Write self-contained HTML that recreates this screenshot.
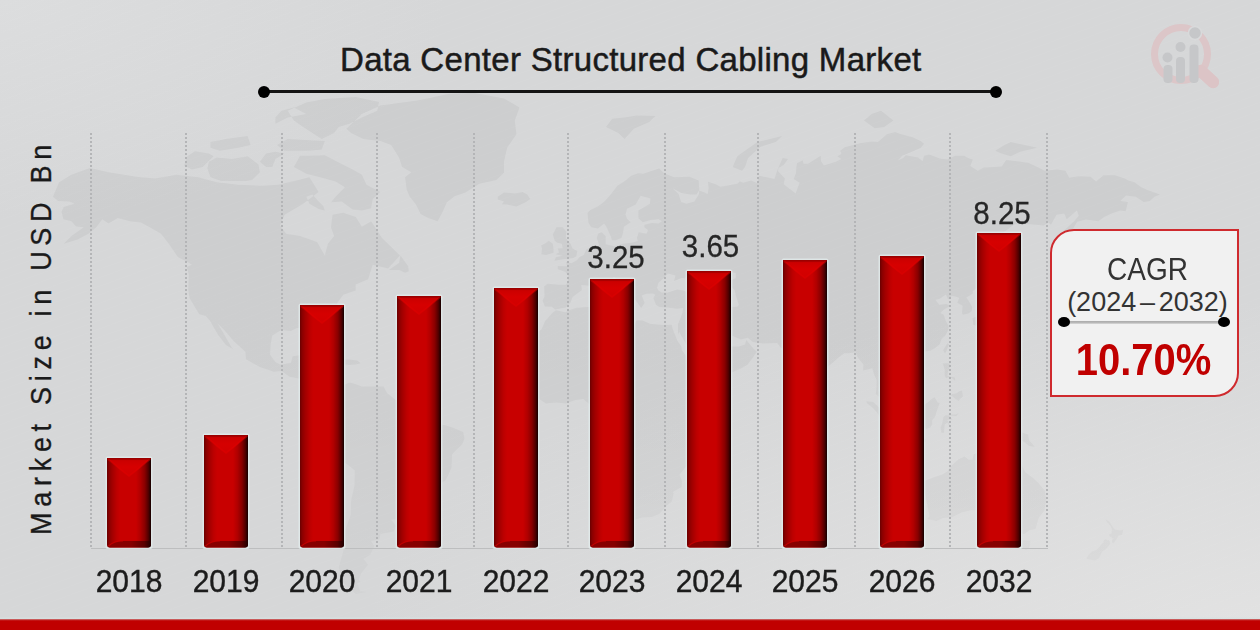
<!DOCTYPE html>
<html>
<head>
<meta charset="utf-8">
<style>
*{margin:0;padding:0;box-sizing:border-box;}
html,body{width:1260px;height:630px;overflow:hidden;}
body{position:relative;font-family:"Liberation Sans",sans-serif;background:#d6d7d8;}
#bg{position:absolute;left:0;top:0;width:1260px;height:630px;
 background:
  repeating-linear-gradient(160deg, rgba(255,255,255,0) 0px, rgba(255,255,255,0) 6px, rgba(255,255,255,0.028) 7px, rgba(255,255,255,0) 8px),
  radial-gradient(ellipse 900px 330px at 100% 100%, rgba(226,226,226,1) 0%, rgba(226,226,226,0) 100%),
  radial-gradient(ellipse 450px 220px at 0% 0%, rgba(220,221,222,1) 0%, rgba(220,221,222,0) 100%),
  #d6d7d8;}
.title{position:absolute;left:340px;top:41px;font-size:33px;letter-spacing:0.3px;color:#1a1a1a;white-space:nowrap;-webkit-text-stroke:0.5px #1a1a1a;}
.tline{position:absolute;left:264px;top:89.5px;width:732px;height:3px;background:#141414;}
.dot{position:absolute;width:12px;height:12px;border-radius:50%;background:#000;}
.grid{position:absolute;top:133px;height:415px;width:2px;margin-left:-1px;background:repeating-linear-gradient(to bottom,#b4b5b7 0px,#b4b5b7 2px,rgba(0,0,0,0) 2px,rgba(0,0,0,0) 4px);}
.axis{position:absolute;left:91px;top:548px;width:957px;height:0;border-top:1px solid #bdbebf;}
.yr{position:absolute;top:565px;font-size:30px;color:#1c1c1c;width:100px;text-align:center;-webkit-text-stroke:0.4px #1c1c1c;transform:scaleY(1.07);transform-origin:50% 79%;}
.val{position:absolute;font-size:29.5px;color:#262626;width:100px;text-align:center;-webkit-text-stroke:0.3px #262626;transform:scaleY(1.07);transform-origin:50% 79%;}
.ylab{position:absolute;left:40.5px;top:337px;font-size:27px;color:#1a1a1a;letter-spacing:5.7px;white-space:nowrap;-webkit-text-stroke:0.3px #1a1a1a;
 transform:translate(-50%,-50%) rotate(-90deg) scaleY(1.12);}
.cagr{position:absolute;left:1050px;top:229px;width:189px;height:168px;background:#f1f1f1;
 border:2px solid #cf2a2e;border-radius:24px 0 24px 0;}
.c1{position:absolute;left:3px;width:185px;text-align:center;font-size:26px;color:#333;}
.sep{position:absolute;left:12px;top:89.5px;width:160px;height:3.5px;background:linear-gradient(to bottom,#acacac 0%,#b4b4b4 45%,#dadada 100%);}
.sdot{position:absolute;width:11.5px;height:10px;border-radius:50%;background:#000;}
.pct{position:absolute;left:-1px;width:185px;text-align:center;font-size:40px;font-weight:bold;color:#c00000;transform:scaleY(1.11);}
.redbar{position:absolute;left:0;top:619px;width:1260px;height:11px;background:linear-gradient(to bottom,rgba(192,0,0,0.45) 0px,rgba(192,0,0,0.9) 1.5px,#c00000 2.5px);}
.redline{position:absolute;left:0;top:617px;width:1260px;height:3px;background:linear-gradient(to bottom,rgba(214,226,226,0.3),#d6e2e2);}
svg{position:absolute;left:0;top:0;}
</style>
</head>
<body>
<div id="bg"></div>
<svg width="1260" height="630" viewBox="0 0 1260 630"><defs><linearGradient id="mg" gradientUnits="userSpaceOnUse" x1="0" y1="100" x2="0" y2="600"><stop offset="0" stop-color="#000" stop-opacity="0.044"/><stop offset="0.5" stop-color="#000" stop-opacity="0.041"/><stop offset="0.75" stop-color="#000" stop-opacity="0.033"/><stop offset="1" stop-color="#000" stop-opacity="0.02"/></linearGradient></defs><path d="M657.0,287.9 L658.5,282.7 L663.8,278.1 L667.8,273.5 L675.5,275.6 L674.0,281.0 L681.7,278.1 L684.8,278.5 L689.4,272.1 L693.4,272.1 L689.4,277.4 L687.9,280.3 L694.1,284.4 L700.2,290.6 L700.2,292.4 L691.0,293.4 L683.2,290.6 L677.1,289.6 L667.8,292.4 L661.6,292.4 L658.5,290.6Z M717.2,284.4 L718.8,277.4 L723.4,273.9 L729.6,272.1 L735.8,273.1 L735.8,278.1 L729.6,281.0 L730.5,286.2 L734.8,290.3 L735.8,295.7 L738.9,304.7 L737.3,306.7 L731.1,307.0 L726.5,305.1 L723.4,301.4 L725.0,294.7 L721.9,290.3Z M52.9,196.8 L59.1,182.3 L71.4,174.8 L90.0,168.1 L108.5,172.2 L136.3,176.8 L154.9,178.4 L176.5,174.8 L198.1,177.3 L216.7,182.3 L238.3,184.8 L263.0,185.8 L278.4,184.8 L293.9,180.9 L309.4,177.3 L318.6,192.1 L303.2,203.7 L284.6,214.8 L280.0,225.5 L286.2,233.8 L300.1,235.9 L317.1,241.9 L324.8,255.4 L327.9,243.8 L334.1,235.9 L331.0,227.6 L332.5,214.8 L343.3,212.7 L355.7,217.0 L361.9,226.8 L371.1,221.3 L382.0,237.9 L395.9,251.6 L399.9,255.4 L388.1,268.4 L372.7,264.8 L368.1,279.2 L355.7,284.4 L355.7,290.6 L343.3,294.7 L337.2,303.1 L337.2,312.9 L331.0,316.8 L321.7,324.1 L324.8,338.1 L323.9,343.6 L320.2,342.6 L316.1,335.0 L312.4,328.8 L306.3,327.5 L297.0,328.1 L290.8,331.0 L281.5,330.0 L272.3,335.6 L270.7,344.2 L270.1,354.7 L275.4,362.1 L280.0,364.5 L290.8,363.0 L292.7,356.2 L303.2,354.7 L300.7,363.6 L299.2,371.0 L310.9,371.3 L314.6,373.9 L314.0,385.5 L320.2,391.2 L326.3,389.8 L332.8,392.4 L331.0,396.1 L323.3,395.8 L319.5,393.3 L307.2,388.4 L306.9,384.9 L301.3,379.1 L289.6,376.8 L281.5,371.0 L273.8,371.8 L259.9,367.1 L246.0,359.2 L245.4,351.7 L233.6,341.1 L224.4,330.3 L217.6,323.4 L222.8,331.9 L231.5,347.2 L233.6,349.6 L225.9,345.1 L218.2,335.0 L214.5,328.8 L210.2,320.9 L205.8,316.1 L199.3,314.2 L195.3,307.7 L189.5,298.1 L188.2,289.6 L188.8,274.6 L186.7,267.0 L191.9,264.8 L185.8,261.1 L178.0,257.3 L168.8,243.8 L161.0,233.8 L150.2,227.6 L140.9,222.6 L130.1,221.3 L117.8,217.9 L108.5,223.4 L102.3,219.2 L96.1,227.6 L88.4,233.8 L77.6,239.5 L63.7,243.8 L71.4,235.9 L83.8,227.2 L76.1,226.4 L71.4,221.3 L63.4,219.2 L61.5,211.8 L63.7,206.9 L74.5,203.7 L69.3,201.4 L58.1,201.0Z M346.4,128.8 L361.9,114.1 L380.4,105.4 L417.5,100.5 L448.4,94.1 L473.1,92.7 L504.0,98.4 L519.5,107.4 L514.8,120.6 L516.4,134.3 L507.1,147.8 L504.0,161.7 L504.0,172.8 L496.3,179.9 L479.3,183.8 L465.4,192.5 L454.6,196.3 L446.9,202.3 L442.2,212.7 L437.6,221.3 L428.3,217.9 L420.6,214.0 L416.0,204.6 L409.8,196.8 L406.7,189.7 L405.1,177.3 L411.3,172.2 L402.1,167.0 L399.0,157.4 L391.2,145.0 L380.4,140.9 L363.4,139.1 L351.1,133.1Z M497.8,196.8 L504.0,192.5 L514.8,193.5 L522.6,192.1 L527.2,194.4 L530.3,199.1 L525.6,202.3 L516.4,206.4 L507.1,204.6 L501.9,204.2 L504.0,201.4 L497.8,199.6Z M332.8,392.4 L338.7,386.9 L349.5,382.6 L355.1,384.0 L361.9,386.6 L374.2,386.6 L383.5,386.6 L387.2,393.3 L395.9,399.9 L405.1,400.4 L412.9,404.7 L417.5,411.9 L416.0,418.4 L423.7,419.3 L434.5,423.3 L445.3,425.3 L453.0,427.8 L463.2,432.1 L464.5,438.4 L462.3,444.2 L456.7,449.4 L452.1,454.3 L451.5,467.4 L448.4,474.8 L445.3,480.8 L439.1,483.8 L433.0,485.9 L423.7,491.4 L421.5,500.6 L416.0,508.4 L408.2,517.2 L403.6,520.5 L395.9,519.5 L391.2,519.5 L395.9,526.0 L393.7,531.6 L380.4,533.9 L379.5,539.3 L371.1,541.0 L374.2,546.1 L370.2,554.8 L363.4,559.1 L368.1,564.5 L361.0,573.7 L358.8,579.7 L360.6,582.0 L357.2,583.1 L360.3,591.3 L366.5,592.1 L355.7,594.1 L343.3,582.4 L338.7,567.4 L343.3,551.3 L344.3,541.0 L344.9,530.9 L350.8,514.7 L351.1,500.6 L354.5,485.3 L354.8,470.4 L349.5,466.0 L336.2,456.6 L330.4,445.6 L326.0,438.4 L321.1,432.7 L321.7,428.4 L324.8,424.1 L322.0,419.9 L324.8,415.3 L327.9,412.1 L332.8,406.2 L333.1,398.4 L331.3,396.1Z M544.2,286.2 L544.5,296.4 L542.6,300.4 L544.8,306.4 L551.9,306.7 L555.0,309.6 L565.8,307.4 L570.5,302.4 L572.6,297.1 L581.9,290.0 L581.3,285.1 L590.5,285.8 L595.2,283.4 L599.8,281.3 L604.4,286.2 L609.1,290.3 L615.3,293.0 L620.8,296.4 L620.2,303.1 L623.3,301.4 L624.5,299.1 L629.2,296.1 L624.5,293.7 L614.3,284.1 L610.6,281.7 L613.7,277.1 L618.4,280.3 L624.5,285.5 L631.9,290.3 L631.6,294.7 L636.9,302.1 L641.2,308.0 L644.6,303.1 L641.8,295.4 L646.2,293.7 L653.0,293.4 L655.4,294.7 L653.3,298.1 L656.0,304.7 L659.4,307.0 L667.8,307.4 L677.1,308.7 L683.2,308.0 L682.3,313.2 L680.1,319.3 L678.0,324.1 L678.0,335.0 L679.2,331.6 L680.8,335.0 L686.3,344.2 L692.5,354.7 L698.7,366.6 L704.3,375.0 L706.1,380.6 L711.0,380.3 L721.9,376.8 L732.7,372.1 L742.0,368.0 L747.2,365.1 L752.8,357.7 L756.8,351.7 L753.4,348.4 L746.3,339.9 L745.0,344.5 L738.9,346.6 L731.4,346.6 L729.6,341.1 L726.5,339.6 L721.9,333.7 L719.4,328.8 L723.1,327.5 L727.1,328.1 L730.8,335.3 L741.0,339.6 L747.8,337.8 L752.8,342.0 L762.3,343.6 L777.2,342.9 L780.6,347.5 L784.6,349.6 L789.2,356.2 L796.6,355.0 L797.0,362.1 L799.1,371.0 L802.5,379.7 L806.8,388.9 L811.5,394.1 L813.6,391.5 L817.0,387.5 L819.2,379.7 L820.1,371.3 L826.3,368.0 L834.3,361.2 L840.2,356.2 L844.2,353.2 L849.2,353.2 L855.7,352.3 L857.5,357.1 L863.4,364.5 L863.1,370.4 L872.3,368.3 L873.9,373.9 L876.7,380.3 L876.4,389.8 L875.7,394.1 L881.3,398.4 L882.5,402.7 L885.0,409.0 L891.8,413.3 L894.0,412.4 L891.5,403.3 L890.6,400.4 L885.9,397.9 L881.9,395.6 L878.5,390.7 L879.5,384.9 L880.7,381.1 L883.8,378.5 L888.7,382.0 L894.0,386.9 L896.8,392.4 L901.7,389.8 L909.4,383.8 L909.7,378.2 L907.9,372.4 L903.6,368.0 L899.2,363.6 L901.4,358.3 L905.7,354.7 L911.6,354.7 L917.5,354.4 L923.0,352.0 L930.1,350.8 L934.5,348.4 L939.7,344.2 L941.6,339.0 L945.6,335.3 L948.1,330.3 L948.7,326.0 L945.9,321.2 L943.7,314.8 L940.3,312.9 L944.7,309.0 L950.5,305.7 L946.2,304.1 L939.4,304.7 L936.6,301.4 L935.7,299.8 L939.7,298.8 L945.9,294.4 L948.1,299.4 L951.8,295.7 L956.1,296.7 L959.2,298.1 L957.3,302.8 L962.6,305.7 L962.0,312.9 L962.9,314.8 L968.4,313.5 L971.8,310.9 L972.2,307.0 L968.8,301.1 L966.3,297.4 L969.4,295.7 L972.8,293.4 L972.8,291.0 L976.2,288.6 L980.8,285.1 L990.7,283.1 L995.9,277.8 L999.0,273.9 L1004.9,267.0 L1006.5,256.6 L1008.9,252.8 L1006.5,247.0 L999.0,245.8 L994.7,243.5 L997.5,237.1 L1006.1,230.5 L1014.5,224.3 L1021.6,224.3 L1030.9,224.3 L1043.5,225.5 L1048.5,222.6 L1051.0,224.7 L1056.5,214.8 L1064.2,213.5 L1066.7,219.2 L1076.9,210.4 L1078.8,215.7 L1074.1,221.3 L1064.9,229.7 L1057.1,237.9 L1055.3,254.7 L1060.8,250.1 L1066.4,244.6 L1072.9,237.5 L1076.0,230.5 L1072.9,228.9 L1077.2,221.7 L1085.9,219.6 L1098.5,221.3 L1104.1,217.0 L1111.5,213.5 L1120.2,210.4 L1125.7,211.3 L1127.9,201.9 L1124.2,201.4 L1120.2,201.0 L1126.0,195.4 L1135.9,196.8 L1143.7,201.9 L1149.8,201.0 L1154.5,196.8 L1160.0,194.4 L1152.9,192.1 L1146.7,189.7 L1140.6,186.8 L1134.4,182.3 L1128.2,180.4 L1124.8,178.4 L1114.9,175.3 L1103.5,175.3 L1096.1,181.4 L1090.5,176.8 L1078.8,176.3 L1069.2,177.8 L1065.5,170.7 L1057.1,169.6 L1044.5,170.7 L1036.4,166.5 L1028.1,162.8 L1017.0,161.2 L1006.1,160.1 L1001.8,166.5 L994.7,167.0 L983.9,167.6 L977.7,170.7 L970.3,166.0 L972.8,159.5 L969.1,158.4 L964.1,155.7 L955.2,155.7 L947.4,159.5 L939.7,158.4 L929.2,154.6 L924.0,155.7 L922.7,161.2 L918.1,157.4 L905.7,155.2 L903.2,157.9 L897.7,160.6 L902.3,155.7 L911.9,151.8 L920.9,147.8 L924.0,143.8 L920.6,140.9 L912.5,137.3 L899.5,133.7 L895.5,131.9 L886.9,134.3 L877.9,142.1 L871.7,141.5 L860.0,143.2 L844.8,147.3 L840.2,150.7 L841.4,154.0 L837.4,156.3 L841.4,159.0 L835.9,161.7 L823.8,165.4 L821.1,161.2 L820.7,155.7 L808.1,163.8 L803.4,163.8 L802.8,160.1 L804.4,159.5 L797.0,163.3 L796.3,167.6 L796.0,173.3 L793.6,178.9 L799.7,182.8 L798.2,186.3 L795.7,193.5 L783.7,184.3 L784.9,178.4 L778.1,171.2 L778.4,168.1 L783.7,164.9 L788.0,159.0 L782.7,157.9 L777.8,169.1 L774.4,178.9 L766.7,177.3 L758.9,175.8 L757.4,183.3 L751.2,180.4 L743.2,182.8 L737.9,180.4 L740.4,180.9 L737.3,183.8 L720.3,186.8 L715.7,184.3 L708.0,181.8 L708.6,188.2 L707.7,194.0 L704.6,192.5 L699.0,190.6 L696.5,194.4 L690.3,194.4 L681.4,193.0 L676.8,190.6 L672.4,188.2 L678.6,194.0 L681.1,201.9 L686.3,203.7 L694.4,201.4 L699.0,194.0 L699.3,187.2 L695.6,187.2 L699.0,187.2 L698.7,180.4 L689.4,176.8 L674.0,177.3 L667.8,174.8 L664.7,173.8 L659.1,168.6 L653.6,170.2 L643.1,173.8 L638.1,173.3 L631.3,175.8 L623.9,181.8 L617.4,185.8 L610.3,194.9 L604.4,201.4 L598.6,206.0 L590.2,210.0 L587.5,213.1 L588.4,222.6 L591.2,227.2 L598.0,228.5 L604.1,223.4 L606.0,226.0 L607.5,229.3 L610.9,236.7 L611.9,240.3 L615.6,240.3 L621.4,237.9 L623.0,233.0 L623.9,226.8 L630.7,222.2 L627.0,218.7 L625.5,214.4 L627.0,208.7 L635.7,204.6 L640.6,195.8 L650.5,198.6 L649.9,203.7 L638.4,210.4 L638.4,218.3 L642.8,222.2 L650.5,220.0 L658.8,219.2 L661.9,221.3 L658.5,223.4 L652.0,223.0 L644.6,224.7 L644.3,227.2 L648.0,230.1 L646.5,233.8 L638.7,232.2 L636.9,237.9 L637.8,241.1 L633.5,242.3 L629.5,243.1 L622.7,243.8 L615.6,246.6 L609.1,245.0 L605.7,244.2 L605.7,236.3 L601.7,232.2 L598.3,233.4 L596.7,237.9 L598.3,242.3 L599.2,245.8 L593.9,247.0 L590.8,247.8 L586.5,249.3 L583.7,255.1 L579.7,257.0 L576.9,260.3 L571.4,263.3 L566.1,261.8 L567.1,266.3 L557.8,265.9 L557.8,269.2 L565.2,271.7 L568.3,275.6 L567.7,282.0 L566.1,284.8 L558.7,284.8 L547.6,283.8Z M554.4,260.7 L561.5,259.6 L573.5,258.1 L576.3,256.2 L577.3,250.9 L572.6,248.5 L570.5,243.8 L565.8,238.3 L566.4,231.8 L562.7,227.2 L556.5,227.2 L552.8,234.6 L554.7,240.7 L557.2,242.7 L561.8,243.8 L562.7,248.2 L557.8,248.5 L559.0,252.4 L555.6,254.3 L562.7,255.8 L555.9,257.3Z M553.5,252.8 L553.5,248.5 L552.8,243.8 L548.8,240.7 L545.7,243.1 L541.1,245.4 L542.0,248.5 L541.4,254.3 L546.0,255.1 L551.0,253.5Z M519.5,356.2 L521.6,361.8 L521.0,370.7 L518.9,374.8 L520.7,382.0 L525.6,386.1 L531.2,391.5 L536.8,397.6 L546.0,403.6 L556.5,402.4 L565.8,403.6 L575.4,399.9 L583.1,399.0 L590.2,404.7 L598.3,403.3 L601.7,406.7 L601.4,414.1 L599.8,420.4 L606.3,428.1 L609.7,434.1 L612.5,441.6 L614.0,450.2 L609.7,458.4 L608.5,467.1 L615.3,481.1 L618.0,493.5 L622.4,500.9 L627.6,510.6 L628.9,517.9 L632.6,520.5 L641.8,517.6 L651.7,516.9 L659.1,514.1 L667.5,504.9 L671.8,501.5 L673.7,493.5 L672.7,492.0 L681.7,487.1 L682.0,481.1 L679.5,474.8 L686.0,466.6 L698.1,459.2 L697.1,447.9 L693.1,439.0 L692.8,430.1 L700.5,421.9 L705.2,416.1 L716.0,408.7 L723.1,401.6 L728.7,391.0 L729.9,383.5 L722.2,384.3 L715.1,386.1 L709.2,387.2 L705.8,382.9 L703.9,380.9 L699.3,375.3 L690.7,365.1 L687.9,363.3 L686.3,356.2 L681.7,349.9 L681.4,346.6 L677.4,340.8 L672.7,329.1 L671.8,324.7 L663.8,325.0 L657.0,324.4 L649.9,323.7 L642.8,320.6 L636.6,320.3 L634.1,325.0 L631.0,327.8 L624.8,325.6 L619.0,321.5 L607.5,319.0 L603.2,315.1 L605.7,310.6 L602.9,305.4 L598.0,306.7 L587.5,307.0 L576.6,307.7 L568.3,310.6 L565.2,312.2 L555.9,310.3 L552.8,312.6 L545.1,320.9 L541.7,329.1 L534.9,334.7 L529.0,348.1 L525.6,355.3Z M724.3,451.4 L728.0,461.6 L725.0,467.4 L717.2,489.8 L711.0,491.4 L708.0,488.3 L705.8,480.2 L709.2,471.9 L708.0,466.0 L709.5,463.0 L717.2,459.0 L720.3,455.8Z M922.7,480.8 L923.0,488.3 L924.9,493.8 L927.3,505.2 L929.5,516.3 L927.3,518.9 L936.6,521.1 L942.8,517.9 L952.1,517.2 L961.3,512.5 L970.6,510.3 L977.7,509.9 L986.1,513.1 L989.8,519.5 L997.8,514.7 L996.9,522.7 L1000.0,523.1 L1004.6,529.3 L1009.2,532.2 L1017.0,531.6 L1024.1,534.2 L1029.3,530.3 L1035.5,528.9 L1038.6,517.9 L1044.5,510.3 L1046.3,499.6 L1044.8,490.7 L1038.0,482.6 L1032.7,477.8 L1025.0,471.9 L1021.3,463.9 L1021.0,460.1 L1015.7,456.6 L1012.3,447.6 L1009.5,454.0 L1009.2,461.6 L1005.2,468.0 L1000.3,465.4 L993.8,462.7 L990.4,459.2 L992.2,455.2 L995.0,452.3 L989.1,452.0 L981.7,450.2 L979.3,452.3 L973.7,454.3 L972.5,459.8 L968.8,459.8 L964.4,456.6 L958.6,459.2 L953.9,463.6 L949.9,466.9 L947.7,471.0 L942.5,474.5 L934.8,476.9 L926.4,480.2Z M1019.1,540.0 L1030.2,540.6 L1030.2,544.7 L1029.0,548.5 L1025.9,549.9 L1021.3,546.8 L1019.1,541.6Z M1105.6,519.2 L1109.4,521.8 L1111.5,525.0 L1113.7,528.3 L1115.5,529.6 L1120.2,530.6 L1123.3,529.6 L1122.0,534.9 L1118.6,535.6 L1116.5,539.3 L1113.4,543.4 L1111.8,542.0 L1112.8,538.3 L1109.7,536.2 L1109.0,534.6 L1111.5,533.6 L1111.8,528.9 L1110.6,526.0 L1106.9,522.1Z M1105.3,539.3 L1109.4,540.6 L1110.3,543.7 L1107.2,547.8 L1105.6,549.2 L1101.9,552.0 L1099.2,558.0 L1095.1,560.5 L1089.9,559.4 L1087.1,559.1 L1086.5,558.0 L1088.3,555.2 L1092.0,551.6 L1096.4,549.9 L1098.8,547.8 L1101.9,543.7 L1103.2,542.7 L1103.8,540.6Z M973.4,325.0 L975.9,325.6 L978.0,324.1 L979.6,319.0 L983.0,318.0 L987.9,316.8 L991.6,317.7 L995.3,314.2 L1001.2,313.9 L1005.5,312.6 L1007.1,308.7 L1007.7,302.4 L1010.8,299.1 L1009.2,294.7 L1008.9,291.7 L1007.4,290.3 L1010.5,287.6 L1014.8,289.6 L1021.6,285.1 L1017.6,283.1 L1012.6,279.9 L1009.5,277.4 L1010.2,282.0 L1008.9,284.8 L1005.5,285.1 L1004.9,289.6 L1004.3,294.4 L1004.3,297.8 L1002.1,302.1 L1000.9,303.7 L996.3,307.0 L994.4,305.4 L992.9,309.0 L989.5,310.6 L981.7,311.6 L976.8,314.8 L976.5,316.4 L972.5,318.0Z M866.5,401.3 L873.3,402.1 L876.1,404.7 L882.9,411.0 L892.7,419.9 L899.5,425.6 L899.5,433.9 L895.5,433.9 L889.0,429.0 L885.3,425.0 L881.3,419.0 L876.7,411.9 L872.3,407.6 L866.8,403.0Z M898.9,434.1 L907.3,435.3 L913.8,436.7 L919.9,436.7 L925.8,439.3 L925.5,442.2 L916.5,440.7 L907.9,438.7 L899.5,437.6Z M909.1,411.6 L910.7,418.7 L912.5,421.9 L912.5,425.3 L917.2,425.6 L922.1,425.8 L926.1,429.0 L930.4,427.6 L932.3,424.1 L932.0,420.4 L935.1,416.7 L936.3,412.4 L939.7,402.7 L937.9,402.7 L934.5,397.3 L931.1,399.6 L928.9,401.6 L923.6,405.6 L921.2,408.2 L915.6,409.3 L915.6,412.4 L911.0,411.6Z M941.3,432.7 L944.0,432.7 L944.7,424.4 L947.4,422.4 L951.5,429.8 L952.7,432.1 L950.2,425.6 L947.4,419.9 L952.7,419.6 L948.1,414.4 L955.5,414.4 L958.9,413.0 L956.4,415.9 L945.6,415.3 L943.4,417.0 L942.2,423.8 L940.6,427.0Z M976.5,419.9 L981.1,418.1 L986.4,419.3 L987.3,425.0 L990.7,426.7 L996.6,421.3 L1002.1,423.0 L1007.7,424.4 L1018.8,428.1 L1022.5,432.7 L1028.1,434.4 L1029.0,439.9 L1031.5,443.0 L1035.5,447.4 L1034.9,446.8 L1029.0,445.9 L1025.0,442.5 L1019.1,438.7 L1014.8,440.5 L1015.1,442.8 L1007.7,443.0 L1001.8,440.2 L1000.6,437.9 L998.4,432.4 L989.8,429.8 L985.1,427.0 L982.4,428.7 L979.9,425.0 L983.3,424.1 L979.3,421.6Z M942.8,363.6 L945.9,363.3 L949.9,363.6 L949.6,367.7 L948.1,371.3 L947.4,375.9 L954.9,377.4 L955.2,381.1 L951.8,378.0 L949.0,377.4 L945.9,378.0 L944.7,375.6 L944.7,369.8Z M949.0,397.0 L952.1,394.1 L956.1,393.5 L959.5,391.2 L962.0,390.4 L962.9,396.4 L959.5,399.6 L958.9,401.0 L955.8,399.3 L951.5,395.6Z M943.1,350.2 L947.4,343.3 L949.0,344.2 L946.5,350.8 L945.0,353.5Z M818.9,388.9 L821.7,390.4 L824.8,395.6 L822.9,399.3 L820.1,399.9 L818.3,393.5Z M907.6,361.0 L913.8,358.9 L915.0,360.1 L912.5,363.6 L908.8,363.9Z M606.0,127.0 L612.2,118.7 L624.5,117.4 L636.9,115.4 L655.4,116.1 L649.2,121.9 L633.8,128.8 L624.5,139.1 L618.4,133.1Z M732.7,167.0 L737.3,156.3 L745.0,150.7 L757.4,142.1 L782.1,136.1 L775.9,142.1 L760.5,146.7 L748.1,157.9 L745.0,167.0 L742.0,170.7Z M1010.8,275.6 L1015.4,264.8 L1013.9,255.4 L1015.4,245.8 L1012.3,245.0 L1011.4,255.4 L1010.2,266.6Z M864.0,120.6 L871.7,114.1 L881.0,110.8 L893.4,120.6 L884.1,127.0 L874.8,128.2Z M995.3,150.7 L1004.6,145.0 L1010.8,142.1 L1029.3,146.1 L1037.0,147.8 L1020.0,151.8 L1010.8,156.3 L1001.5,153.5Z M380.4,192.1 L372.7,199.1 L371.1,208.2 L361.9,210.4 L352.6,209.6 L341.8,201.4 L331.0,202.3 L335.6,196.8 L344.9,187.2 L335.6,181.4 L320.2,177.3 L306.3,173.8 L293.9,167.0 L300.1,155.7 L309.4,155.7 L324.8,155.2 L337.2,161.7 L352.6,169.6 L361.9,174.8 L366.5,184.8Z M378.9,101.9 L355.7,97.0 L324.8,99.1 L306.3,102.6 L287.7,110.8 L293.9,120.6 L303.2,127.0 L321.7,139.1 L334.1,133.1 L338.7,127.0 L349.5,123.8 L361.9,117.4 L377.3,110.8Z M324.8,140.9 L309.4,140.3 L287.7,139.1 L276.9,145.0 L284.6,150.7 L309.4,150.7 L321.7,149.6Z M207.4,168.6 L208.9,161.7 L216.7,157.4 L232.1,159.0 L247.6,156.3 L258.4,164.4 L259.9,172.2 L252.2,179.9 L246.0,180.9 L232.1,180.9 L221.3,180.9 L210.5,177.3Z M184.2,165.4 L187.3,156.3 L195.0,151.2 L208.9,153.5 L213.6,156.3 L202.7,167.0 L191.9,169.6Z M272.3,167.0 L275.4,159.0 L284.6,153.5 L275.4,151.8 L266.1,153.5 L259.9,161.7 L266.1,167.0Z M210.5,142.1 L225.9,139.1 L247.6,136.1 L250.6,145.0 L238.3,147.8 L219.7,150.7 L210.5,147.8Z M275.4,123.8 L287.7,117.4 L306.3,114.1 L293.9,107.4 L281.5,110.8 L275.4,117.4Z M324.8,210.4 L318.6,209.1 L309.4,203.7 L306.3,196.8 L312.4,194.4 L318.6,201.4 L323.3,206.0Z M309.4,353.8 L312.4,351.1 L318.6,349.9 L324.8,350.2 L332.5,353.8 L338.7,356.2 L342.7,358.6 L332.5,359.8 L329.4,356.2 L321.7,353.8 L312.4,353.5Z M342.1,359.8 L349.5,359.5 L357.2,360.4 L360.6,363.3 L355.7,364.5 L349.5,365.1 L342.4,364.2Z M388.8,269.9 L399.0,262.9 L400.5,255.4 L408.2,266.3 L408.8,271.3 L405.1,272.8 L399.0,269.9Z" fill-rule="evenodd" fill="url(#mg)" stroke="none" stroke-width="0" stroke-linejoin="round"/></svg>
<div class="grid" style="left:91px"></div><div class="grid" style="left:186px"></div><div class="grid" style="left:282px"></div><div class="grid" style="left:377px"></div><div class="grid" style="left:474px"></div><div class="grid" style="left:568px"></div><div class="grid" style="left:665px"></div><div class="grid" style="left:758px"></div><div class="grid" style="left:855px"></div><div class="grid" style="left:950px"></div><div class="grid" style="left:1047px"></div>
<div class="axis"></div>
<div class="title">Data Center Structured Cabling Market</div>
<div class="tline"></div>
<div class="dot" style="left:258px;top:86px"></div>
<div class="dot" style="left:990px;top:86px"></div>
<div class="ylab">Market Size in USD Bn</div>
<svg width="1260" height="630" viewBox="0 0 1260 630"><defs>
<linearGradient id="gh" x1="0" x2="1" y1="0" y2="0">
 <stop offset="0" stop-color="#6a0000"/>
 <stop offset="0.05" stop-color="#8a0000"/>
 <stop offset="0.12" stop-color="#a20000"/>
 <stop offset="0.22" stop-color="#bc0000"/>
 <stop offset="0.3" stop-color="#c80000"/>
 <stop offset="0.66" stop-color="#c80000"/>
 <stop offset="0.76" stop-color="#b00000"/>
 <stop offset="0.86" stop-color="#880000"/>
 <stop offset="0.94" stop-color="#500000"/>
 <stop offset="1" stop-color="#150000"/>
</linearGradient>
<linearGradient id="gt" x1="0" x2="0" y1="0" y2="1">
 <stop offset="0" stop-color="#a00000"/>
 <stop offset="0.15" stop-color="#cc0000"/>
 <stop offset="0.5" stop-color="#d60000"/>
 <stop offset="1" stop-color="#d00000"/>
</linearGradient>
<linearGradient id="gb" x1="0" x2="1" y1="0" y2="0">
 <stop offset="0" stop-color="#8a0000"/>
 <stop offset="0.55" stop-color="#860000"/>
 <stop offset="0.85" stop-color="#5a0000"/>
 <stop offset="1" stop-color="#200000"/>
</linearGradient>
</defs><filter id="lb" x="-10%" y="-10%" width="120%" height="120%"><feGaussianBlur stdDeviation="0.6"/></filter><g filter="url(#lb)">
<circle cx="1181" cy="54" r="26.5" fill="none" stroke="#dcc6c8" stroke-width="7"/>
<path d="M1201,71 L1213,82" stroke="#dcc4c6" stroke-width="12.5" stroke-linecap="round"/>
<circle cx="1195" cy="33" r="6.5" fill="#c6c7c9" stroke="#d9dadb" stroke-width="1.5"/>
<rect x="1163.5" y="65" width="9" height="18" rx="4" fill="#c6c7c9"/>
<rect x="1176" y="57" width="9" height="26" rx="4" fill="#c6c7c9"/>
<rect x="1189.5" y="44.5" width="9" height="38.5" rx="4" fill="#c6c7c9"/>
<circle cx="1167.5" cy="57.5" r="5" fill="#c6c7c9"/>
<circle cx="1180.5" cy="47" r="5" fill="#c6c7c9"/>
</g><g transform="translate(107,458)"><rect x="-1.5" y="-1.5" width="47" height="92.5" rx="2" fill="#e3eeee" opacity=".75"/><path d="M0,0 H44 V86.5 Q44,89.5 41,89.5 H3 Q0,89.5 0,86.5 Z" fill="url(#gh)"/><path d="M0,0 H44 C38,5 30,13 22,18 C14,13 6,5 0,0 Z" fill="url(#gt)"/><path d="M1,1 C7,6 15,13 22,18 C29,13 37,6 43,1" fill="none" stroke="#e00000" stroke-width="1.8" opacity=".5"/><rect x="0" y="0" width="44" height="1.5" fill="#950000" opacity=".7"/><path d="M1,88.5 C5,84.5 10,83.0 16,83.0 H44 V86.5 Q44,89.5 41,89.5 H3 Q0,89.5 0,86.5 Z" fill="url(#gb)"/><path d="M1.5,88.0 C5,84.5 10,83.0 16,83.0" fill="none" stroke="#d40000" stroke-width="1.2" opacity=".7"/></g><g transform="translate(204,435)"><rect x="-1.5" y="-1.5" width="47" height="115.5" rx="2" fill="#e3eeee" opacity=".75"/><path d="M0,0 H44 V109.5 Q44,112.5 41,112.5 H3 Q0,112.5 0,109.5 Z" fill="url(#gh)"/><path d="M0,0 H44 C38,5 30,13 22,18 C14,13 6,5 0,0 Z" fill="url(#gt)"/><path d="M1,1 C7,6 15,13 22,18 C29,13 37,6 43,1" fill="none" stroke="#e00000" stroke-width="1.8" opacity=".5"/><rect x="0" y="0" width="44" height="1.5" fill="#950000" opacity=".7"/><path d="M1,111.5 C5,107.5 10,106.0 16,106.0 H44 V109.5 Q44,112.5 41,112.5 H3 Q0,112.5 0,109.5 Z" fill="url(#gb)"/><path d="M1.5,111.0 C5,107.5 10,106.0 16,106.0" fill="none" stroke="#d40000" stroke-width="1.2" opacity=".7"/></g><g transform="translate(300,305)"><rect x="-1.5" y="-1.5" width="47" height="245.5" rx="2" fill="#e3eeee" opacity=".75"/><path d="M0,0 H44 V239.5 Q44,242.5 41,242.5 H3 Q0,242.5 0,239.5 Z" fill="url(#gh)"/><path d="M0,0 H44 C38,5 30,13 22,18 C14,13 6,5 0,0 Z" fill="url(#gt)"/><path d="M1,1 C7,6 15,13 22,18 C29,13 37,6 43,1" fill="none" stroke="#e00000" stroke-width="1.8" opacity=".5"/><rect x="0" y="0" width="44" height="1.5" fill="#950000" opacity=".7"/><path d="M1,241.5 C5,237.5 10,236.0 16,236.0 H44 V239.5 Q44,242.5 41,242.5 H3 Q0,242.5 0,239.5 Z" fill="url(#gb)"/><path d="M1.5,241.0 C5,237.5 10,236.0 16,236.0" fill="none" stroke="#d40000" stroke-width="1.2" opacity=".7"/></g><g transform="translate(397,296)"><rect x="-1.5" y="-1.5" width="47" height="254.5" rx="2" fill="#e3eeee" opacity=".75"/><path d="M0,0 H44 V248.5 Q44,251.5 41,251.5 H3 Q0,251.5 0,248.5 Z" fill="url(#gh)"/><path d="M0,0 H44 C38,5 30,13 22,18 C14,13 6,5 0,0 Z" fill="url(#gt)"/><path d="M1,1 C7,6 15,13 22,18 C29,13 37,6 43,1" fill="none" stroke="#e00000" stroke-width="1.8" opacity=".5"/><rect x="0" y="0" width="44" height="1.5" fill="#950000" opacity=".7"/><path d="M1,250.5 C5,246.5 10,245.0 16,245.0 H44 V248.5 Q44,251.5 41,251.5 H3 Q0,251.5 0,248.5 Z" fill="url(#gb)"/><path d="M1.5,250.0 C5,246.5 10,245.0 16,245.0" fill="none" stroke="#d40000" stroke-width="1.2" opacity=".7"/></g><g transform="translate(494,288)"><rect x="-1.5" y="-1.5" width="47" height="262.5" rx="2" fill="#e3eeee" opacity=".75"/><path d="M0,0 H44 V256.5 Q44,259.5 41,259.5 H3 Q0,259.5 0,256.5 Z" fill="url(#gh)"/><path d="M0,0 H44 C38,5 30,13 22,18 C14,13 6,5 0,0 Z" fill="url(#gt)"/><path d="M1,1 C7,6 15,13 22,18 C29,13 37,6 43,1" fill="none" stroke="#e00000" stroke-width="1.8" opacity=".5"/><rect x="0" y="0" width="44" height="1.5" fill="#950000" opacity=".7"/><path d="M1,258.5 C5,254.5 10,253.0 16,253.0 H44 V256.5 Q44,259.5 41,259.5 H3 Q0,259.5 0,256.5 Z" fill="url(#gb)"/><path d="M1.5,258.0 C5,254.5 10,253.0 16,253.0" fill="none" stroke="#d40000" stroke-width="1.2" opacity=".7"/></g><g transform="translate(590,279)"><rect x="-1.5" y="-1.5" width="47" height="271.5" rx="2" fill="#e3eeee" opacity=".75"/><path d="M0,0 H44 V265.5 Q44,268.5 41,268.5 H3 Q0,268.5 0,265.5 Z" fill="url(#gh)"/><path d="M0,0 H44 C38,5 30,13 22,18 C14,13 6,5 0,0 Z" fill="url(#gt)"/><path d="M1,1 C7,6 15,13 22,18 C29,13 37,6 43,1" fill="none" stroke="#e00000" stroke-width="1.8" opacity=".5"/><rect x="0" y="0" width="44" height="1.5" fill="#950000" opacity=".7"/><path d="M1,267.5 C5,263.5 10,262.0 16,262.0 H44 V265.5 Q44,268.5 41,268.5 H3 Q0,268.5 0,265.5 Z" fill="url(#gb)"/><path d="M1.5,267.0 C5,263.5 10,262.0 16,262.0" fill="none" stroke="#d40000" stroke-width="1.2" opacity=".7"/></g><g transform="translate(687,271)"><rect x="-1.5" y="-1.5" width="47" height="279.5" rx="2" fill="#e3eeee" opacity=".75"/><path d="M0,0 H44 V273.5 Q44,276.5 41,276.5 H3 Q0,276.5 0,273.5 Z" fill="url(#gh)"/><path d="M0,0 H44 C38,5 30,13 22,18 C14,13 6,5 0,0 Z" fill="url(#gt)"/><path d="M1,1 C7,6 15,13 22,18 C29,13 37,6 43,1" fill="none" stroke="#e00000" stroke-width="1.8" opacity=".5"/><rect x="0" y="0" width="44" height="1.5" fill="#950000" opacity=".7"/><path d="M1,275.5 C5,271.5 10,270.0 16,270.0 H44 V273.5 Q44,276.5 41,276.5 H3 Q0,276.5 0,273.5 Z" fill="url(#gb)"/><path d="M1.5,275.0 C5,271.5 10,270.0 16,270.0" fill="none" stroke="#d40000" stroke-width="1.2" opacity=".7"/></g><g transform="translate(783,260)"><rect x="-1.5" y="-1.5" width="47" height="290.5" rx="2" fill="#e3eeee" opacity=".75"/><path d="M0,0 H44 V284.5 Q44,287.5 41,287.5 H3 Q0,287.5 0,284.5 Z" fill="url(#gh)"/><path d="M0,0 H44 C38,5 30,13 22,18 C14,13 6,5 0,0 Z" fill="url(#gt)"/><path d="M1,1 C7,6 15,13 22,18 C29,13 37,6 43,1" fill="none" stroke="#e00000" stroke-width="1.8" opacity=".5"/><rect x="0" y="0" width="44" height="1.5" fill="#950000" opacity=".7"/><path d="M1,286.5 C5,282.5 10,281.0 16,281.0 H44 V284.5 Q44,287.5 41,287.5 H3 Q0,287.5 0,284.5 Z" fill="url(#gb)"/><path d="M1.5,286.0 C5,282.5 10,281.0 16,281.0" fill="none" stroke="#d40000" stroke-width="1.2" opacity=".7"/></g><g transform="translate(880,256)"><rect x="-1.5" y="-1.5" width="47" height="294.5" rx="2" fill="#e3eeee" opacity=".75"/><path d="M0,0 H44 V288.5 Q44,291.5 41,291.5 H3 Q0,291.5 0,288.5 Z" fill="url(#gh)"/><path d="M0,0 H44 C38,5 30,13 22,18 C14,13 6,5 0,0 Z" fill="url(#gt)"/><path d="M1,1 C7,6 15,13 22,18 C29,13 37,6 43,1" fill="none" stroke="#e00000" stroke-width="1.8" opacity=".5"/><rect x="0" y="0" width="44" height="1.5" fill="#950000" opacity=".7"/><path d="M1,290.5 C5,286.5 10,285.0 16,285.0 H44 V288.5 Q44,291.5 41,291.5 H3 Q0,291.5 0,288.5 Z" fill="url(#gb)"/><path d="M1.5,290.0 C5,286.5 10,285.0 16,285.0" fill="none" stroke="#d40000" stroke-width="1.2" opacity=".7"/></g><g transform="translate(977,233)"><rect x="-1.5" y="-1.5" width="47" height="317.5" rx="2" fill="#e3eeee" opacity=".75"/><path d="M0,0 H44 V311.5 Q44,314.5 41,314.5 H3 Q0,314.5 0,311.5 Z" fill="url(#gh)"/><path d="M0,0 H44 C38,5 30,13 22,18 C14,13 6,5 0,0 Z" fill="url(#gt)"/><path d="M1,1 C7,6 15,13 22,18 C29,13 37,6 43,1" fill="none" stroke="#e00000" stroke-width="1.8" opacity=".5"/><rect x="0" y="0" width="44" height="1.5" fill="#950000" opacity=".7"/><path d="M1,313.5 C5,309.5 10,308.0 16,308.0 H44 V311.5 Q44,314.5 41,314.5 H3 Q0,314.5 0,311.5 Z" fill="url(#gb)"/><path d="M1.5,313.0 C5,309.5 10,308.0 16,308.0" fill="none" stroke="#d40000" stroke-width="1.2" opacity=".7"/></g></svg>
<div class="val" style="left:566px;top:240.5px">3.25</div>
<div class="val" style="left:660.5px;top:229.5px">3.65</div>
<div class="val" style="left:952px;top:196.5px">8.25</div>
<div class="yr" style="left:79px">2018</div><div class="yr" style="left:176px">2019</div><div class="yr" style="left:272px">2020</div><div class="yr" style="left:369px">2021</div><div class="yr" style="left:466px">2022</div><div class="yr" style="left:562px">2023</div><div class="yr" style="left:659px">2024</div><div class="yr" style="left:755px">2025</div><div class="yr" style="left:852px">2026</div><div class="yr" style="left:949px">2032</div>
<div class="cagr">
  <div class="c1" style="top:23px;font-size:28px;transform:scaleY(1.1)">CAGR</div>
  <div class="c1" style="top:55.5px;font-size:27px;word-spacing:-3.7px">(2024 – 2032)</div>
  <div class="sep"></div>
  <div class="sdot" style="left:6px;top:85.5px"></div>
  <div class="sdot" style="left:166px;top:85.5px"></div>
  <div class="pct" style="top:106.5px">10.70%</div>
</div>
<div class="redline"></div>
<div class="redbar"></div>
</body>
</html>
